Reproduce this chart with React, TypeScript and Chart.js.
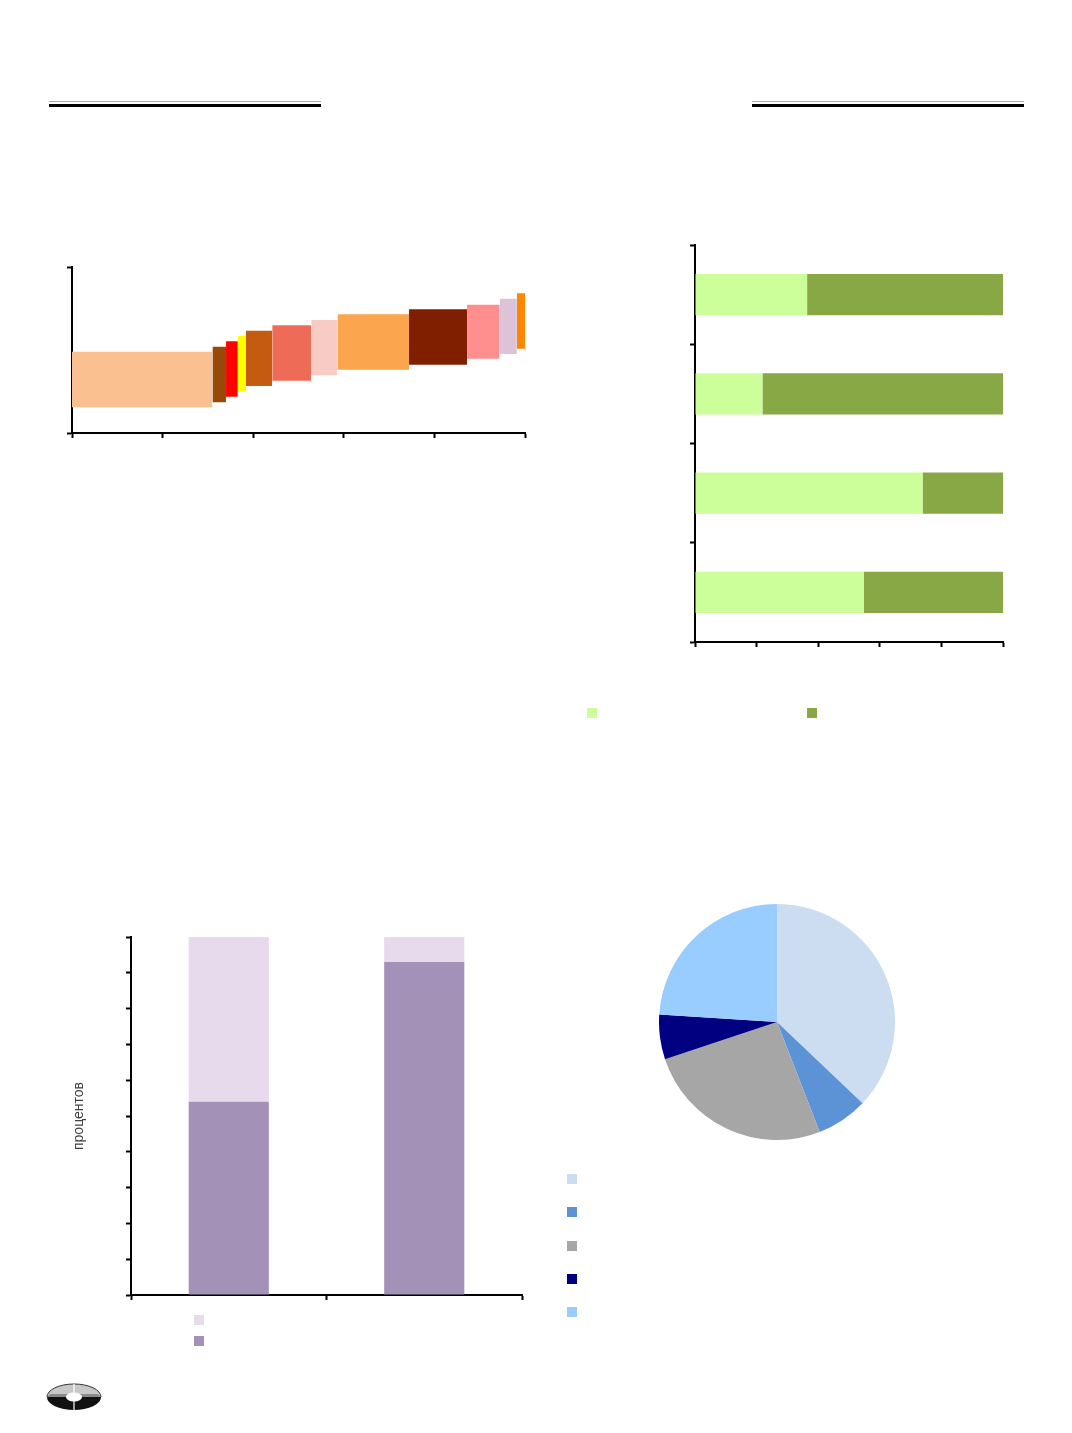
import { useEffect, useRef } from 'react'
import { Chart, registerables } from 'chart.js'
import type { ChartConfiguration } from 'chart.js'

Chart.register(...registerables)
Chart.defaults.font.family = "'Liberation Sans', Arial, sans-serif"

// top-left: stepped blocks (x from..to, y low..high)
const blockEdges = [0, 1.55, 1.7, 1.83, 1.92, 2.21, 2.64, 2.93, 3.72, 4.36, 4.72, 4.91, 5]
const blockLows = [15.5, 18.5, 21.9, 24.9, 28.3, 31.5, 34.8, 38.1, 41.1, 44.8, 47.6, 50.8]
const blockHighs = [49.0, 52.0, 55.2, 58.4, 61.6, 64.9, 68.1, 71.5, 74.5, 77.3, 80.9, 84.2]
const blockColors = [
  '#FAC090', '#984807', '#FF0000', '#FFFF00', '#C55A11', '#EE6B57',
  '#F9CBC5', '#FBA54F', '#7F1F00', '#FF8F8F', '#DCC3D8', '#FF8600',
]

// top-right: 100% horizontal bars
const shareRows = ['1', '2', '3', '4']
const shareLight = [36.4, 21.9, 73.9, 54.8]
const shareDark = [63.6, 78.1, 26.1, 45.2]
const shareColors = ['#CCFF99', '#88A845']

// bottom-left: 100% stacked columns
const stackCols = ['1', '2']
const stackLower = [54, 93]
const stackUpper = [46, 7]
const stackColors = ['#A491B7', '#E6DAEC']

// bottom-right: pie
const pieLabels = ['1', '2', '3', '4', '5']
const pieValues = [37.1, 7.0, 25.8, 6.1, 24.0]
const pieColors = ['#CCDDF2', '#5B93D6', '#A6A6A6', '#000080', '#99CCFF']

const axisGrid = { drawOnChartArea: false, drawTicks: true, tickLength: 5, tickWidth: 2, tickColor: '#000' }
const axisBorder = { display: true, color: '#000', width: 2 }
const quiet = { legend: { display: false }, tooltip: { enabled: false } }

function blocksConfig(): ChartConfiguration {
  return {
    type: 'line',
    data: {
      datasets: blockLows.map((low, i) => ({
        data: [
          { x: blockEdges[i], y: blockHighs[i] },
          { x: blockEdges[i + 1], y: blockHighs[i] },
        ],
        fill: { value: low },
        backgroundColor: blockColors[i],
        borderColor: 'transparent',
        borderWidth: 0,
        pointRadius: 0,
      })),
    },
    options: {
      animation: false,
      responsive: true,
      maintainAspectRatio: false,
      layout: { padding: { top: 4, right: 4 } },
      plugins: quiet,
      scales: {
        x: { type: 'linear', min: 0, max: 5, ticks: { display: false, stepSize: 1 }, grid: axisGrid, border: axisBorder },
        y: { min: 0, max: 100, ticks: { display: false, stepSize: 100 }, grid: axisGrid, border: axisBorder },
      },
    },
  } as ChartConfiguration
}

function shareConfig(): ChartConfiguration {
  return {
    type: 'bar',
    data: {
      labels: shareRows,
      datasets: [
        { data: shareLight, backgroundColor: shareColors[0], borderWidth: 0 },
        { data: shareDark, backgroundColor: shareColors[1], borderWidth: 0 },
      ],
    },
    options: {
      indexAxis: 'y',
      animation: false,
      responsive: true,
      maintainAspectRatio: false,
      layout: { padding: { top: 4, right: 6 } },
      plugins: quiet,
      datasets: { bar: { categoryPercentage: 0.83, barPercentage: 0.5 } },
      scales: {
        x: { stacked: true, min: 0, max: 100, ticks: { display: false, stepSize: 20 }, grid: axisGrid, border: axisBorder },
        y: { stacked: true, ticks: { display: false }, grid: axisGrid, border: axisBorder },
      },
    },
  } as ChartConfiguration
}

function stackConfig(): ChartConfiguration {
  return {
    type: 'bar',
    data: {
      labels: stackCols,
      datasets: [
        { data: stackLower, backgroundColor: stackColors[0], borderWidth: 0 },
        { data: stackUpper, backgroundColor: stackColors[1], borderWidth: 0 },
      ],
    },
    options: {
      animation: false,
      responsive: true,
      maintainAspectRatio: false,
      layout: { padding: { top: 4, right: 4 } },
      plugins: quiet,
      datasets: { bar: { categoryPercentage: 0.82, barPercentage: 0.5 } },
      scales: {
        x: { stacked: true, ticks: { display: false }, grid: axisGrid, border: axisBorder },
        y: {
          stacked: true, min: 0, max: 100,
          ticks: { display: false, stepSize: 10 },
          grid: axisGrid, border: axisBorder,
          title: {
            display: true, text: 'процентов', color: '#404040',
            font: { size: 14 }, padding: { top: 4.6, bottom: 38.6 },
          },
        },
      },
    },
  } as ChartConfiguration
}

function pieConfig(): ChartConfiguration {
  return {
    type: 'pie',
    data: {
      labels: pieLabels,
      datasets: [{ data: pieValues, backgroundColor: pieColors, borderWidth: 0, hoverOffset: 0, offset: 0 }],
    },
    options: {
      animation: false,
      responsive: true,
      maintainAspectRatio: false,
      plugins: quiet,
    },
  } as ChartConfiguration
}

function ChartBox({ left, top, width, height, make }: {
  left: number; top: number; width: number; height: number; make: () => ChartConfiguration
}) {
  const canvasRef = useRef<HTMLCanvasElement>(null)
  useEffect(() => {
    if (!canvasRef.current) return
    const chart = new Chart(canvasRef.current, make())
    return () => chart.destroy()
  }, [make])
  return (
    <div style={{ position: 'absolute', left, top, width, height }}>
      <canvas ref={canvasRef} />
    </div>
  )
}

function Swatch({ left, top, color }: { left: number; top: number; color: string }) {
  return <div style={{ position: 'absolute', left, top, width: 10, height: 10, background: color }} />
}

function Rule({ left }: { left: number }) {
  return (
    <>
      <div style={{ position: 'absolute', left, top: 101, width: 272, height: 1, background: '#aaa' }} />
      <div style={{ position: 'absolute', left, top: 103.5, width: 272, height: 3, background: '#000' }} />
    </>
  )
}

export default function App() {
  return (
    <div style={{
      position: 'absolute', left: 0, top: 0, width: 1072, height: 1433,
      background: '#fff', fontFamily: "'Liberation Sans', Arial, sans-serif", overflow: 'hidden',
    }}>
      <Rule left={49} />
      <Rule left={752} />

      <ChartBox left={67} top={263} width={462} height={175} make={blocksConfig} />

      <ChartBox left={690} top={241} width={319} height={406} make={shareConfig} />
      <Swatch left={587} top={708} color={shareColors[0]} />
      <Swatch left={807} top={708} color={shareColors[1]} />

      <ChartBox left={66} top={933} width={460} height={367} make={stackConfig} />
      <Swatch left={194} top={1315} color={stackColors[1]} />
      <Swatch left={194} top={1336} color={stackColors[0]} />

      <ChartBox left={659} top={904} width={236} height={236} make={pieConfig} />
      {pieColors.map((c, i) => (
        <Swatch key={i} left={567} top={1174 + i * 33.3} color={c} />
      ))}

      <svg style={{ position: 'absolute', left: 46, top: 1382 }} width={56} height={31} viewBox="0 0 56 31">
        <path d="M1 15 A27 13 0 0 1 55 15 Z" fill="#c8c8c8" stroke="#333" strokeWidth="1" />
        <path d="M4 12 L52 12 L55 15 L1 15 Z" fill="#8a8a8a" />
        <path d="M1 15 A27 13 0 0 0 55 15 Z" fill="#111" />
        <ellipse cx="28" cy="15" rx="8" ry="4.5" fill="#fff" />
        <line x1="28" y1="2" x2="28" y2="11" stroke="#fff" strokeWidth="1.2" />
        <line x1="28" y1="19" x2="28" y2="29" stroke="#fff" strokeWidth="1.2" />
      </svg>
    </div>
  )
}
